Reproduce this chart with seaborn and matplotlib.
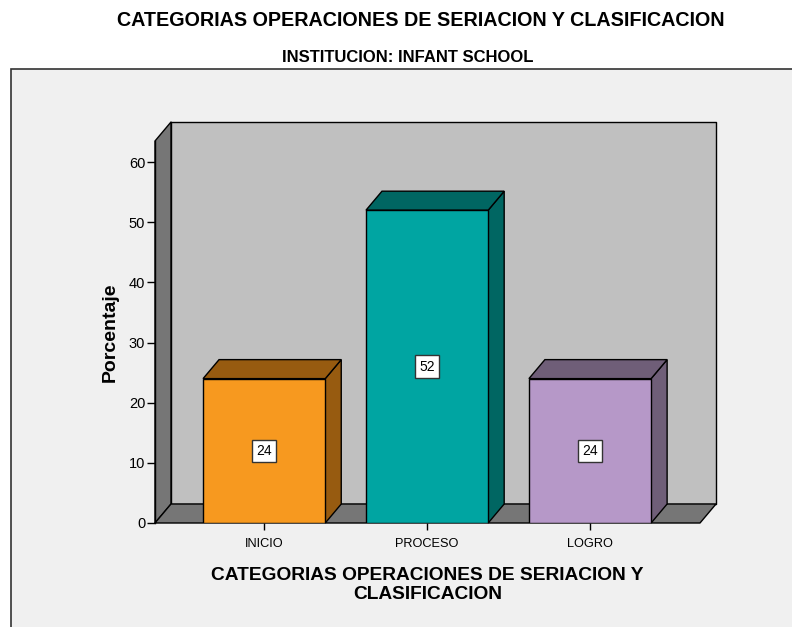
import matplotlib
matplotlib.use("Agg")
import matplotlib.pyplot as plt
from matplotlib.patches import Polygon, Rectangle
import seaborn as sns
import pandas as pd

categories = ["INICIO", "PROCESO", "LOGRO"]
percent = [24, 52, 24]
front_colors = ["#F7991F", "#00A5A2", "#B698C8"]
dark_colors = ["#975B10", "#006662", "#6F5E78"]
y_ticks = [0, 10, 20, 30, 40, 50, 60]

title = "CATEGORIAS OPERACIONES DE SERIACION Y CLASIFICACION"
subtitle = "INSTITUCION: INFANT SCHOOL"
xlabel = "CATEGORIAS OPERACIONES DE SERIACION Y\nCLASIFICACION"
ylabel = "Porcentaje"

sns.set_theme(style="white")
plt.rcParams["font.family"] = ["Liberation Sans", "DejaVu Sans"]
plt.rcParams["text.color"] = "black"
plt.rcParams["axes.labelcolor"] = "black"
plt.rcParams["xtick.color"] = "black"
plt.rcParams["ytick.color"] = "black"

W, H = 792, 627
fig = plt.figure(figsize=(W / 100, H / 100), dpi=100)
fig.patch.set_facecolor("white")

# outer frame
frame = Rectangle((11 / W, -0.05), 1.0, (627 - 69) / H + 0.05, transform=fig.transFigure,
                  facecolor="#F0F0F0", edgecolor="#333333", linewidth=1.2, zorder=-5)
fig.patches.append(frame)

ax = fig.add_axes([155 / W, (H - 523) / H, 545 / W, 382 / H])
ax.set_facecolor("none")
ax.set_zorder(1)

df = pd.DataFrame({"cat": categories, "pct": percent})
sns.barplot(data=df, x="cat", y="pct", hue="cat", palette=front_colors, width=0.75,
            saturation=1, edgecolor="black", linewidth=1.0, legend=False, ax=ax, zorder=3)
bars = list(ax.patches)

xmin, xmax = -0.67, 2.675
ytop = 63.5
ax.set_xlim(xmin, xmax)
ax.set_ylim(0, ytop)

dx = 16 / 163.0
dy = 19 / 6.017

wall_kw = dict(edgecolor="black", linewidth=1.0, clip_on=False, joinstyle="round")
# back wall
ax.add_patch(Polygon([(xmin + dx, dy), (xmax + dx, dy), (xmax + dx, ytop + dy), (xmin + dx, ytop + dy)],
                     facecolor="#C0C0C0", zorder=1, **wall_kw))
# left wall
ax.add_patch(Polygon([(xmin, 0), (xmin + dx, dy), (xmin + dx, ytop + dy), (xmin, ytop)],
                     facecolor="#767676", zorder=1, **wall_kw))
# floor
ax.add_patch(Polygon([(xmin, 0), (xmax, 0), (xmax + dx, dy), (xmin + dx, dy)],
                     facecolor="#767676", zorder=1, **wall_kw))

for i, p in enumerate(bars):
    x0 = p.get_x()
    w = p.get_width()
    h = p.get_height()
    col = dark_colors[i]
    ax.add_patch(Polygon([(x0 + w, 0), (x0 + w + dx, dy), (x0 + w + dx, h + dy), (x0 + w, h)],
                         facecolor=col, edgecolor="black", linewidth=1.0, zorder=2.5, clip_on=False))
    ax.add_patch(Polygon([(x0, h), (x0 + dx, h + dy), (x0 + w + dx, h + dy), (x0 + w, h)],
                         facecolor=col, edgecolor="black", linewidth=1.0, zorder=2.5, clip_on=False))
    ax.text(x0 + w / 2, h / 2, f"{percent[i]}", ha="center", va="center", fontsize=10, zorder=5,
            bbox=dict(boxstyle="square,pad=0.3", facecolor="white", edgecolor="#333333", linewidth=1.0))

for s in ["top", "right", "bottom"]:
    ax.spines[s].set_visible(False)
ax.spines["left"].set_color("black")
ax.spines["left"].set_linewidth(1.0)
ax.spines["left"].set_zorder(4)

ax.set_yticks(y_ticks)
ax.tick_params(axis="y", direction="out", length=6, width=1, color="black", labelsize=10.5, pad=1,
               left=True)
ax.tick_params(axis="x", direction="out", length=5, width=1, color="black", labelsize=9.2, pad=6,
               bottom=True)
ax.set_xlabel(xlabel, fontsize=13.8, fontweight="bold", labelpad=12, linespacing=1.15)
ax.set_ylabel(ylabel, fontsize=14, fontweight="bold", labelpad=7)

fig.text(421 / W, 1 - 20 / H, title, ha="center", va="center", fontsize=14.2, fontweight="bold")
fig.text(408 / W, 1 - 57 / H, subtitle, ha="center", va="center", fontsize=12, fontweight="bold")

fig.savefig("out.png", dpi=100)
